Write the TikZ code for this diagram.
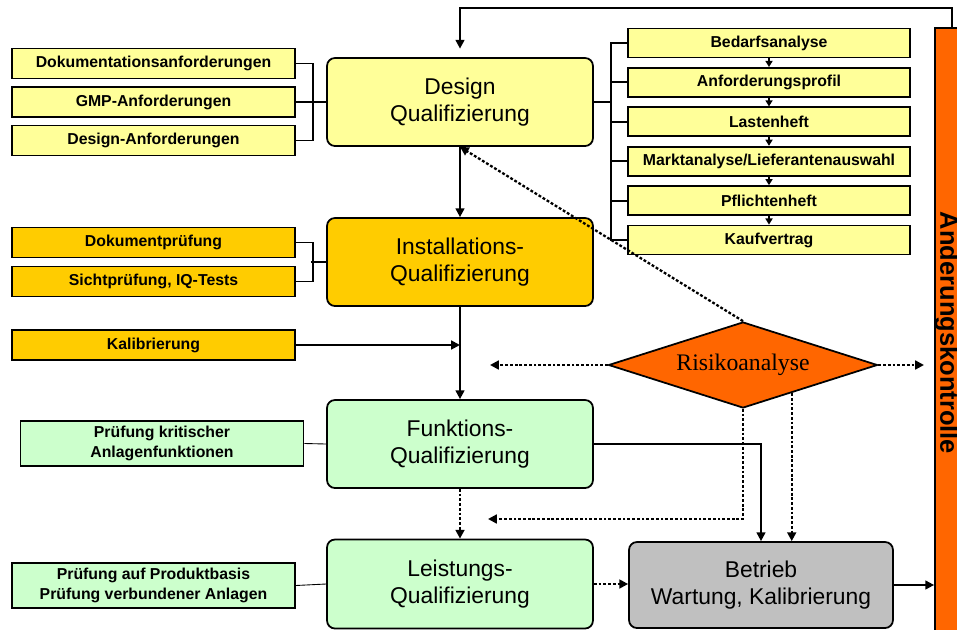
\documentclass[tikz,border=0pt]{standalone}
\usepackage{fontspec}
\setmainfont{Liberation Serif}
\setsansfont{Liberation Sans}
\usetikzlibrary{shapes.geometric,arrows.meta,calc}

\definecolor{dqyellow}{HTML}{FFFF99}
\definecolor{iqgold}{HTML}{FFCC00}
\definecolor{fqgreen}{HTML}{CCFFCC}
\definecolor{opgray}{HTML}{C0C0C0}
\definecolor{riskorange}{HTML}{FF6600}

\begin{document}
\begin{tikzpicture}[x=0.02cm,y=-0.02cm]

\tikzstyle{phase}=[draw,line width=1pt,rounded corners=4.5pt,minimum width=5.32cm,minimum height=1.76cm,align=center,font=\sffamily\fontsize{13}{15.5}\selectfont]
\tikzstyle{task}=[draw,line width=1pt,minimum width=5.66cm,minimum height=0.6cm,inner sep=1pt,align=center,font=\sffamily\bfseries\fontsize{9}{11}\selectfont]
\tikzstyle{spec}=[task,minimum width=5.64cm,minimum height=0.58cm,fill=dqyellow]
\tikzstyle{wire}=[draw,line width=1.1pt]
\tikzstyle{arr}=[wire,-{Triangle[length=5pt,width=5pt]}]
\tikzstyle{sarr}=[wire,-{Triangle[length=3.5pt,width=4pt]}]
\tikzstyle{dotarr}=[draw,line width=1.3pt,dash pattern=on 1.6pt off 1.1pt,-{Triangle[length=5pt,width=5pt]}]
\tikzstyle{tie}=[draw,line width=0.5pt]

\clip (0,0) rectangle (957,629);

\node[phase,fill=dqyellow] (design) at (460,102) {Design\\Qualifizierung};
\node[phase,fill=iqgold] (install) at (460,262) {Installations-\\Qualifizierung};
\node[phase,fill=fqgreen] (funktion) at (460,444) {Funktions-\\Qualifizierung};
\node[phase,fill=fqgreen,minimum height=1.78cm] (leistung) at (460,584) {Leistungs-\\Qualifizierung};
\node[phase,fill=opgray,minimum width=5.28cm,minimum height=1.72cm] (betrieb) at (761,585) {Betrieb\\Wartung, Kalibrierung};

\foreach \name/\y/\lbl in {dok/63.5/Dokumentationsanforderungen, gmp/102/GMP-Anforderungen, dan/140.5/Design-Anforderungen}
{
  \node[task,fill=dqyellow] (\name) at (153.5,\y) {\lbl};
}

\foreach \name/\y/\lbl in {dpr/242.5/Dokumentprüfung, sip/281.5/{Sichtprüfung, IQ-Tests}, kal/345/Kalibrierung}
{
  \node[task,fill=iqgold] (\name) at (153.5,\y) {\lbl};
}

\node[task,fill=fqgreen,minimum height=0.9cm] (pkf) at (162,443.5) {Prüfung kritischer\\Anlagenfunktionen};
\node[task,fill=fqgreen,minimum height=0.9cm] (pab) at (153.5,585.5) {Prüfung auf Produktbasis\\Prüfung verbundener Anlagen};

\foreach \name/\y/\lbl in {bed/43/Bedarfsanalyse, anf/82.4/Anforderungsprofil, las/121.8/Lastenheft, mkt/161.2/{Marktanalyse/Lieferantenauswahl}, pfl/200.6/Pflichtenheft, kau/240/Kaufvertrag}
{
  \node[spec] (\name) at (769,\y) {\lbl};
}

\node[diamond,draw,line width=1pt,fill=riskorange,aspect=3.1,minimum width=5.38cm,minimum height=1.72cm,inner sep=0pt,font=\fontsize{13.5}{16}\selectfont] (risk) at (743,365) {Risikoanalyse};

\node[draw,line width=1pt,fill=riskorange,minimum width=0.62cm,minimum height=12.24cm,inner sep=0pt] (aend) at (950.5,334) {};
\node[rotate=-90,inner sep=0pt,font=\sffamily\bfseries\fontsize{14.5}{17}\selectfont] (aendtxt) at (948.5,333) {Änderungskontrolle};

\coordinate (back) at (952,8);
\coordinate (rl) at (490,365);
\coordinate (rr) at (924,365);
\coordinate (fb) at (488,519);
\coordinate (rk) at ($(risk.south)!0.36!(risk.east)$);

\draw[arr,shorten >=0.17cm] (back |- aend.north) -- (back) -| (design.north);
\draw[arr] (design.south) -- (install.north);
\draw[arr] (install.south) -- (funktion.north);
\draw[arr] (kal.east) -- (kal.east -| install.south);
\draw[dotarr] (funktion.south) -- (leistung.north);
\draw[dotarr] (leistung.east) -- (leistung.east -| betrieb.west);
\draw[arr] (betrieb.east) -- (betrieb.east -| aend.west);
\draw[arr] (funktion.east) -| (betrieb.north);

\draw[wire] (dok.east) -- ++(17,0) |- (dan.east);
\draw[wire] (gmp.east) -- (design.west);
\draw[wire] (dpr.east) -- ++(17,0) |- (sip.east);
\draw[wire] (install.west) -- ++(-15,0);

\draw[wire] (design.east) -- ++(17,0) coordinate (rb);
\foreach \name in {bed,anf,las,mkt,pfl,kau}
{
  \draw[wire] (rb) |- (\name.west);
}
\foreach \a/\b in {bed/anf, anf/las, las/mkt, mkt/pfl, pfl/kau}
{
  \draw[sarr] (\a.south) -- (\b.north);
}

\draw[dotarr] (risk.north) -- (design.south);
\draw[dotarr] (risk.west) -- (rl);
\draw[dotarr] (risk.east) -- (rr);
\draw[dotarr] (risk.south) |- (fb);
\draw[dotarr] (rk) -- (rk |- betrieb.north);

\draw[tie] (pkf.east) -- (funktion.west);
\draw[tie] (pab.east) -- (leistung.west);
\end{tikzpicture}
\end{document}
